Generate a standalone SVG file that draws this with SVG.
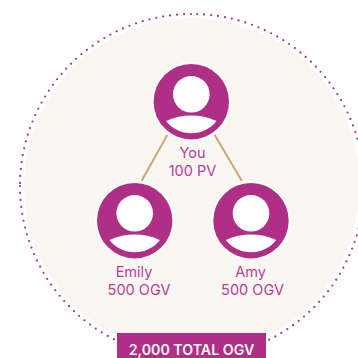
<svg xmlns="http://www.w3.org/2000/svg" width="358" height="358" viewBox="0 0 358 358">
<style>
.bg{fill:#faf7f2}
.dots{fill:none;stroke:#b03088;stroke-width:2.2;stroke-linecap:round;stroke-dasharray:0 7}
.line{stroke:#c9a876;stroke-width:2;fill:none}
.lbl{font-family:"Inter","Noto Sans",sans-serif;font-size:14.5px;fill:#b5409a;text-anchor:middle}
.total{font-family:"Inter","Noto Sans",sans-serif;font-size:14.2px;font-weight:600;fill:#f9f6f1;text-anchor:middle}
</style>
<defs>
<g id="avatar">
<circle r="39.7" fill="#fff"/>
<circle r="37.7" fill="#ae2f85"/>
<circle cy="-7.4" r="18.3" fill="#fff"/>
<path d="M-25.2,19.2Q0,8.5 25.2,19.2A31.7,31.7 0 0 1 -25.2,19.2Z" fill="#fff"/>
</g>
</defs>
<rect width="358" height="358" fill="#fff"/>
<g id="backdrop">
<circle class="bg" cx="192" cy="186" r="168"/>
<path class="dots" d="M191,14A172,172 0 0 0 20,183"/>
<path class="dots" d="M20,186A172,172 0 1 0 195,14"/>
</g>
<g id="connectors">
<line class="line" x1="167.3" y1="135" x2="141.7" y2="180.7"/>
<line class="line" x1="214.7" y1="135" x2="241.7" y2="180.7"/>
</g>
<g id="node-you">
<use href="#avatar" x="191.3" y="101.7"/>
<text class="lbl" x="192.5" y="158">You</text>
<text class="lbl" x="192.5" y="176">100 PV</text>
</g>
<g id="node-emily">
<use href="#avatar" x="134.7" y="220.7"/>
<text class="lbl" x="134" y="277">Emily</text>
<text class="lbl" x="139" y="295">500 OGV</text>
</g>
<g id="node-amy">
<use href="#avatar" x="251" y="220.7"/>
<text class="lbl" x="250.7" y="277">Amy</text>
<text class="lbl" x="252.5" y="295">500 OGV</text>
</g>
<g id="total">
<rect x="117" y="333" width="149" height="25" fill="#ae2f85"/>
<text class="total" x="191.5" y="355">2,000 TOTAL OGV</text>
</g>
</svg>
